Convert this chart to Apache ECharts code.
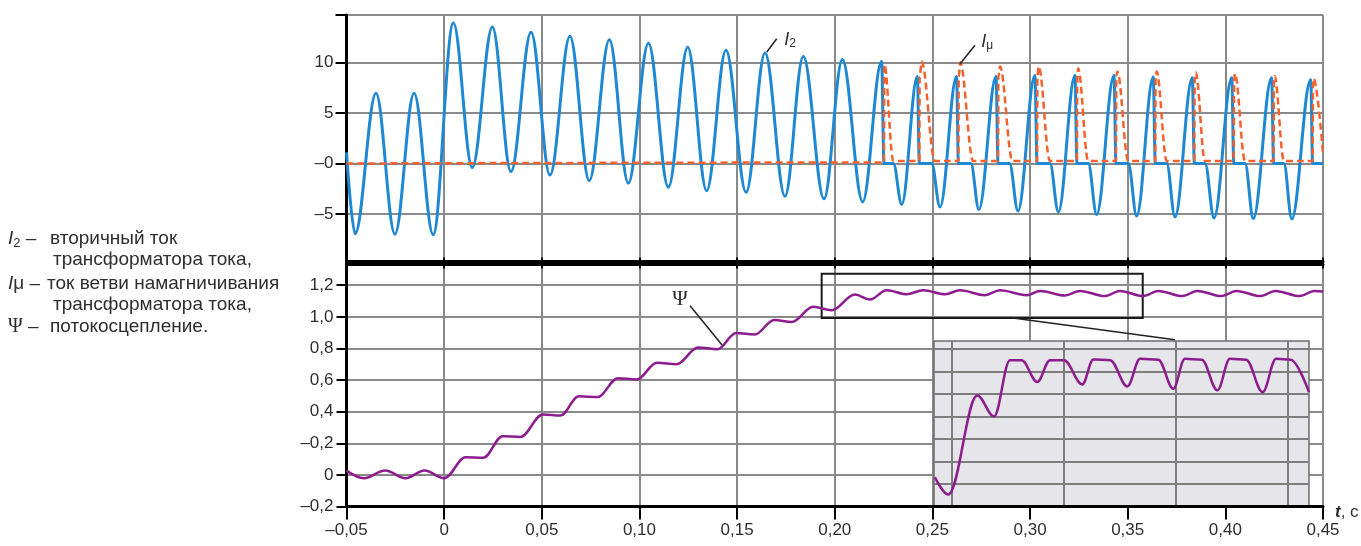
<!DOCTYPE html>
<html><head><meta charset="utf-8">
<script src="https://cdn.jsdelivr.net/npm/echarts@6/dist/echarts.min.js"></script>
<style>html,body{margin:0;padding:0;background:#fff}#c{width:1361px;height:546px}</style>
</head><body><div id="c"></div>
<script>
// ---------- tick labels ----------
const xTicks = [-0.05, 0, 0.05, 0.10, 0.15, 0.20, 0.25, 0.30, 0.35, 0.40, 0.45];
const xTickLabels = ['–0,05', '0', '0,05', '0,10', '0,15', '0,20', '0,25', '0,30', '0,35', '0,40', '0,45'];
const topYTicks = [-5, 0, 5, 10];
const topYLabels = ['–5', '–0', '5', '10'];
const botYTicks = [-0.2, 0, 0.2, 0.4, 0.6, 0.8, 1.0, 1.2];
const botYLabels = ['–0,2', '0', '–0,2', '0,4', '0,6', '0,8', '1,0', '1,2'];

// ---------- I2 (secondary current): extrema / corner points ----------
const i2Time = [-0.05, -0.0456, -0.0349, -0.0252, -0.0154, -0.0056,
  0.0047, 0.0144, 0.0247, 0.0342, 0.0445, 0.0542, 0.0644, 0.0743, 0.0846, 0.0943,
  0.1046, 0.1148, 0.1247, 0.1344, 0.1443, 0.1546, 0.1643, 0.1745, 0.1839, 0.1945,
  0.2039, 0.2143, 0.2240,
  0.2252, 0.2300, 0.2343, 0.2423, 0.2433, 0.2496, 0.2539, 0.2624, 0.2633, 0.2697,
  0.2738, 0.2826, 0.2836, 0.2895, 0.2938, 0.3025, 0.3036, 0.3102, 0.3145, 0.3230,
  0.3240, 0.3298, 0.3341, 0.3430, 0.3440, 0.3503, 0.3546, 0.3631, 0.3641, 0.3700,
  0.3742, 0.3831, 0.3841, 0.3896, 0.3942, 0.4033, 0.4043, 0.4101, 0.4143, 0.4237,
  0.4247, 0.4300, 0.4340, 0.4437, 0.4447, 0.4500];
const i2Value = [1.1, -6.95, 6.95, -7.0, 6.95, -7.05,
  13.9, -0.4, 13.5, -0.8, 13.0, -1.15, 12.6, -1.7, 12.25, -1.95,
  11.9, -2.35, 11.5, -2.7, 11.2, -2.85, 10.95, -3.25, 10.6, -3.5,
  10.3, -3.8, 10.1,
  0, 0, -4.05, 8.6, 0, 0, -4.3, 8.6, 0, 0,
  -4.55, 8.6, 0, 0, -4.7, 8.7, 0, 0, -4.8, 8.7,
  0, 0, -5.05, 8.7, 0, 0, -5.2, 8.55, 0, 0,
  -5.3, 8.5, 0, 0, -5.4, 8.5, 0, 0, -5.45, 8.5,
  0, 0, -5.5, 8.3, 0, 0];

// ---------- Iμ (magnetising branch current) ----------
const iMuTime = [-0.05, 0.2252, 0.2254, 0.2300, 0.2433, 0.2435, 0.2445, 0.2513,
  0.2633, 0.2635, 0.2642, 0.2709, 0.2836, 0.2838, 0.2846, 0.2910,
  0.3036, 0.3038, 0.3044, 0.3102, 0.3240, 0.3242, 0.3246, 0.3298,
  0.3440, 0.3442, 0.3447, 0.3503, 0.3641, 0.3643, 0.3648, 0.3700,
  0.3841, 0.3843, 0.3848, 0.3896, 0.4043, 0.4045, 0.4049, 0.4101,
  0.4247, 0.4249, 0.4252, 0.4300, 0.4447, 0.4449, 0.4452, 0.4500];
const iMuValue = [0.0, 0.1, 9.8, 0.25, 0.25, 8.6, 10.1, 0.25,
  0.25, 8.6, 10.0, 0.25, 0.25, 8.6, 9.6, 0.25,
  0.25, 8.7, 9.6, 0.25, 0.25, 8.7, 9.4, 0.25,
  0.25, 8.7, 9.1, 0.25, 0.25, 8.55, 9.1, 0.25,
  0.25, 8.5, 9.0, 0.25, 0.25, 8.5, 8.9, 0.25,
  0.25, 8.5, 8.65, 0.25, 0.25, 8.3, 8.4, 1.0];

// ---------- Ψ (flux linkage) ----------
const psiTime = [-0.05, -0.041, -0.0302, -0.0198, -0.010, 0.0,
  0.011, 0.020, 0.030, 0.039, 0.0505, 0.0595, 0.069, 0.0785, 0.089, 0.0985,
  0.109, 0.119, 0.130, 0.140, 0.1495, 0.159, 0.169, 0.178, 0.189, 0.1984,
  0.2104, 0.218, 0.2266, 0.2368, 0.2453, 0.2565, 0.2641, 0.2769, 0.2846, 0.2983,
  0.3051, 0.3179, 0.3256, 0.3384, 0.3460, 0.3580, 0.3657, 0.3780, 0.3857, 0.3980,
  0.4057, 0.4180, 0.4257, 0.4380, 0.4457, 0.4500];
const psiValue = [0.027, -0.021, 0.027, -0.021, 0.027, -0.021,
  0.112, 0.108, 0.245, 0.240, 0.382, 0.375, 0.498, 0.492, 0.612, 0.603,
  0.710, 0.700, 0.806, 0.795, 0.898, 0.888, 0.980, 0.968, 1.063, 1.042,
  1.141, 1.109, 1.168, 1.143, 1.168, 1.143, 1.168, 1.137, 1.168, 1.137,
  1.164, 1.135, 1.164, 1.131, 1.164, 1.131, 1.164, 1.131, 1.164, 1.131,
  1.164, 1.131, 1.164, 1.131, 1.164, 1.160];

// ---------- inset (magnified Ψ, inset's own vertical units) ----------
const insetTime = [0.1924, 0.1984, 0.2113, 0.2188, 0.2259, 0.2311, 0.2381, 0.2438, 0.2500,
  0.2582, 0.2631, 0.2706, 0.2783, 0.2840, 0.2921, 0.2988, 0.3040, 0.3115, 0.3185,
  0.3241, 0.3313, 0.3387, 0.3447, 0.3512, 0.3594];
const insetValue = [1.30, 0.53, 4.93, 4.00, 6.50, 6.50, 5.53, 6.50, 6.50,
  5.42, 6.53, 6.50, 5.33, 6.56, 6.52, 5.23, 6.56, 6.52, 5.16,
  6.56, 6.52, 5.08, 6.56, 6.52, 5.08];
const insetXGrid = [0.20, 0.25, 0.30, 0.35];
const insetYGrid = [1, 2, 3, 4, 5, 6, 7];

// ---------- zoom window, leaders, labels (data coordinates) ----------
const zoomWindow = [[0.1933, 0.992], [0.3577, 1.273]];
const connector = [[0.2913, 0.992], [0.3742, 0.855]];
const psiLeader = [[0.1259, 1.07], [0.1423, 0.822]];
const psiLabelAt = [0.1208, 1.108];
const i2Leader = [[0.1703, 12.35], [0.1652, 11.04]];
const i2LabelAt = [0.1771, 12.25];
const iMuLeader = [[0.2718, 11.7], [0.2641, 9.85]];
const iMuLabelAt = [0.2780, 12.06];

// ---------- helpers ----------
const pairs = (ts, vs) => ts.map((t, i) => [t, vs[i]]);
const lookup = (ticks, labels) => v => {
  for (let i = 0; i < ticks.length; i++) if (Math.abs(ticks[i] - v) < 1e-6) return labels[i];
  return '';
};
const FONT = "'Liberation Sans', Arial, sans-serif";
const SERIF = "'Liberation Serif', 'DejaVu Serif', serif";
const GRIDC = '#8a8a8a';
const TXT = '#2e2e2e';
const BLUE = '#1f88d3';
const RED = '#f2612e';
const PURPLE = '#8d1d8f';
const LEG = 19;

const labelStyle = {fontFamily: FONT, fontSize: 17, color: TXT};
const richIt = {
  i: {fontFamily: FONT, fontSize: 18, fontStyle: 'italic', color: TXT},
  s: {fontFamily: FONT, fontSize: 12, color: TXT, padding: [8, 0, 0, 0]}
};
const legFont = LEG + 'px ' + FONT;

const chart = echarts.init(document.getElementById('c'));
const option = {
  animation: false,
  backgroundColor: '#fff',
  grid: [
    {left: 346.5, right: 38, top: 15, height: 249.5},
    {left: 346.5, right: 38, top: 261.5, height: 245},
    {left: 934, top: 341, width: 375, height: 165, show: true, backgroundColor: '#e5e5ea',
      borderColor: '#6e6e6e', borderWidth: 1.5, z: 3}
  ],
  xAxis: [
    {gridIndex: 0, type: 'value', min: -0.05, max: 0.45, interval: 0.05,
      axisLine: {show: true, onZero: false, lineStyle: {color: '#000', width: 3}},
      axisTick: {show: true, inside: true, length: 7, lineStyle: {color: '#000', width: 2}},
      axisLabel: {show: false},
      splitLine: {show: true, lineStyle: {color: GRIDC, width: 2}}},
    {gridIndex: 1, type: 'value', position: 'bottom', min: -0.05, max: 0.45, interval: 0.05, z: 10,
      axisLine: {show: true, onZero: false, lineStyle: {color: '#000', width: 3}},
      axisTick: {show: true, length: 13, lineStyle: {color: '#000', width: 2}},
      axisLabel: Object.assign({margin: 15, formatter: lookup(xTicks, xTickLabels)}, labelStyle),
      splitLine: {show: false},
      name: '{t|t}, c', nameLocation: 'end', nameGap: 12,
      nameTextStyle: {fontFamily: FONT, fontSize: 17, color: TXT, padding: [12, 0, 0, 0],
        rich: {t: {fontFamily: FONT, fontSize: 17, fontStyle: 'italic', fontWeight: 'bold', color: TXT}}}},
    {gridIndex: 1, type: 'value', position: 'top', min: -0.05, max: 0.45, interval: 0.05,
      axisLine: {show: true, onZero: false, lineStyle: {color: '#000', width: 3}},
      axisTick: {show: true, inside: true, length: 7, lineStyle: {color: '#000', width: 2}},
      axisLabel: {show: false},
      splitLine: {show: true, lineStyle: {color: GRIDC, width: 2}}},
    {gridIndex: 2, type: 'value', min: 0.192, max: 0.3594, show: false, splitLine: {show: false}}
  ],
  yAxis: [
    {gridIndex: 0, type: 'value', min: -10, max: 14.7, interval: 5,
      axisLine: {show: true, onZero: false, lineStyle: {color: '#000', width: 3}},
      axisTick: {show: true, length: 11, customValues: topYTicks.concat([14.7]), lineStyle: {color: '#000', width: 2}},
      axisLabel: Object.assign({margin: 13, formatter: lookup(topYTicks, topYLabels)}, labelStyle),
      splitLine: {show: true, lineStyle: {color: GRIDC, width: 2}}},
    {gridIndex: 1, type: 'value', min: -0.2, max: 1.35, interval: 0.2,
      axisLine: {show: true, onZero: false, lineStyle: {color: '#000', width: 3}},
      axisTick: {show: true, length: 10, customValues: botYTicks, lineStyle: {color: '#000', width: 2}},
      axisLabel: Object.assign({margin: 13, formatter: lookup(botYTicks, botYLabels)}, labelStyle),
      splitLine: {show: true, lineStyle: {color: GRIDC, width: 2}}},
    {gridIndex: 2, type: 'value', min: 0.02, max: 7.35, show: false, splitLine: {show: false}}
  ],
  series: [
    {name: 'I2', type: 'line', xAxisIndex: 0, yAxisIndex: 0, data: pairs(i2Time, i2Value),
      smooth: 0.36, smoothMonotone: 'x', showSymbol: false, symbol: 'none', z: 2,
      lineStyle: {color: BLUE, width: 3},
      markLine: {silent: true, symbol: ['none', 'none'], label: {show: false},
        lineStyle: {color: '#222', width: 1.5, type: 'solid'},
        data: [[{coord: i2Leader[0]}, {coord: i2Leader[1]}]]},
      markPoint: {silent: true, symbol: 'circle', symbolSize: 0,
        data: [{coord: i2LabelAt, label: {show: true, position: 'inside', formatter: '{i|I}{s|2}', rich: richIt}}]}
    },
    {name: 'Iμ', type: 'line', xAxisIndex: 0, yAxisIndex: 0, data: pairs(iMuTime, iMuValue),
      smooth: 0.36, smoothMonotone: 'x', showSymbol: false, symbol: 'none', z: 3,
      lineStyle: {color: RED, width: 2.5, type: [7, 4]},
      markLine: {silent: true, symbol: ['none', 'none'], label: {show: false},
        lineStyle: {color: '#222', width: 1.5, type: 'solid'},
        data: [[{coord: iMuLeader[0]}, {coord: iMuLeader[1]}]]},
      markPoint: {silent: true, symbol: 'circle', symbolSize: 0,
        data: [{coord: iMuLabelAt, label: {show: true, position: 'inside', formatter: '{i|I}{s|μ}', rich: richIt}}]}
    },
    {name: 'Ψ', type: 'line', xAxisIndex: 1, yAxisIndex: 1, data: pairs(psiTime, psiValue),
      smooth: 0.36, smoothMonotone: 'x', showSymbol: false, symbol: 'none', z: 2,
      lineStyle: {color: PURPLE, width: 2.5},
      markArea: {silent: true, itemStyle: {color: 'rgba(0,0,0,0)', borderColor: '#1a1a1a', borderWidth: 2},
        data: [[{coord: zoomWindow[0]}, {coord: zoomWindow[1]}]]},
      markLine: {silent: true, symbol: ['none', 'none'], label: {show: false},
        lineStyle: {color: '#222', width: 1.5, type: 'solid'},
        data: [[{coord: connector[0]}, {coord: connector[1]}], [{coord: psiLeader[0]}, {coord: psiLeader[1]}]]},
      markPoint: {silent: true, symbol: 'circle', symbolSize: 0,
        data: [{coord: psiLabelAt, label: {show: true, position: 'inside', formatter: 'Ψ', fontFamily: SERIF, fontSize: 21, color: TXT}}]}
    },
    {name: 'inset', type: 'line', xAxisIndex: 3, yAxisIndex: 2, data: pairs(insetTime, insetValue),
      smooth: 0.36, smoothMonotone: 'x', showSymbol: false, symbol: 'none', z: 8,
      lineStyle: {color: PURPLE, width: 2.5},
      markLine: {silent: true, symbol: ['none', 'none'], label: {show: false},
        lineStyle: {color: '#7d7d7d', width: 2, type: 'solid'},
        data: insetXGrid.map(v => ({xAxis: v})).concat(insetYGrid.map(v => ({yAxis: v})))}
    }
  ],
  graphic: [
    {type: 'text', x: 8, y: 239, style: {text: '{i|I}{s|2} –', font: legFont, fill: TXT, verticalAlign: 'middle',
      rich: {i: {fontStyle: 'italic', fontSize: LEG, fontFamily: FONT, fill: TXT}, s: {fontSize: 13, fontFamily: FONT, fill: TXT, padding: [8, 0, 0, 0]}}}},
    {type: 'text', x: 50, y: 239, style: {text: 'вторичный ток', font: legFont, fill: TXT, verticalAlign: 'middle'}},
    {type: 'text', x: 53, y: 260, style: {text: 'трансформатора тока,', font: legFont, fill: TXT, verticalAlign: 'middle'}},
    {type: 'text', x: 8, y: 284, style: {text: '{i|I}μ –', font: legFont, fill: TXT, verticalAlign: 'middle',
      rich: {i: {fontStyle: 'italic', fontSize: LEG, fontFamily: FONT, fill: TXT}}}},
    {type: 'text', x: 47, y: 284, style: {text: 'ток ветви намагничивания', font: legFont, fill: TXT, verticalAlign: 'middle'}},
    {type: 'text', x: 53, y: 305, style: {text: 'трансформатора тока,', font: legFont, fill: TXT, verticalAlign: 'middle'}},
    {type: 'text', x: 8, y: 327, style: {text: '{p|Ψ} –', font: legFont, fill: TXT, verticalAlign: 'middle',
      rich: {p: {fontFamily: SERIF, fontSize: LEG + 1, fill: TXT}}}},
    {type: 'text', x: 50, y: 327, style: {text: 'потокосцепление.', font: legFont, fill: TXT, verticalAlign: 'middle'}}
  ]
};
chart.setOption(option);
</script></body></html>
